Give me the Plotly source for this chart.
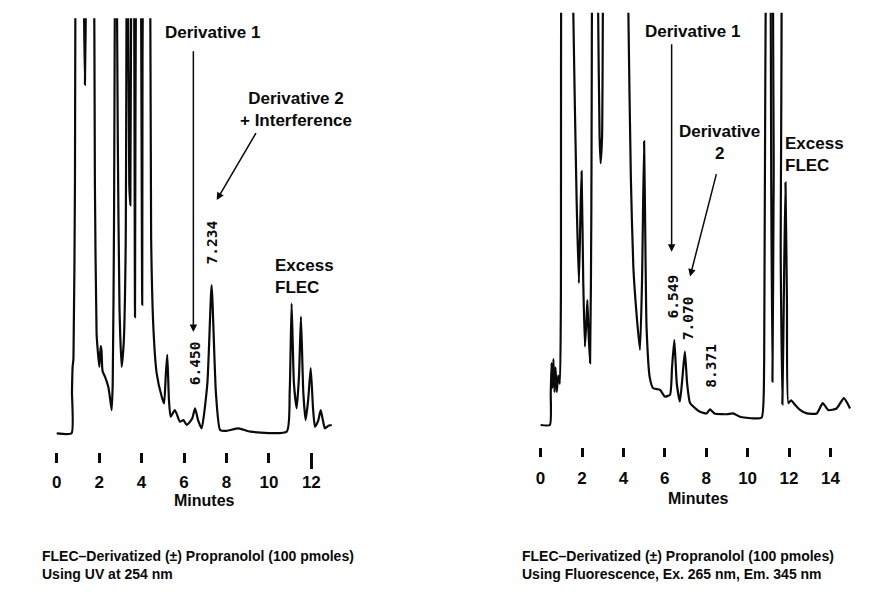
import plotly.graph_objects as go

# ---------------- data ----------------
# Left chromatogram: UV detection at 254 nm (time in minutes, signal in % of full scale)
left_time = [0.00, 0.70, 0.72, 0.75, 0.79, 0.86, 0.92, 1.10, 1.27, 1.33, 1.39, 1.55, 1.74, 1.80,
             1.88, 1.95, 2.01, 2.07, 2.11, 2.16, 2.28, 2.43, 2.50, 2.59, 2.64, 2.70, 2.78, 2.88,
             2.96, 3.06, 3.16, 3.25, 3.32, 3.42, 3.47, 3.54, 3.63, 3.69, 3.75, 3.86, 3.96, 4.03,
             4.10, 4.25, 4.39, 4.45, 4.56, 4.71, 4.95, 5.06, 5.14, 5.21, 5.29, 5.37, 5.57, 5.81,
             5.97, 6.13, 6.38, 6.52, 6.66, 6.83, 7.10, 7.30, 7.50, 7.70, 8.00, 8.56, 9.13, 10.84,
             10.98, 11.07, 11.18, 11.31, 11.42, 11.51, 11.62, 11.73, 11.85, 11.97, 12.08, 12.17,
             12.32, 12.44, 12.55, 12.64, 12.80, 12.96]
left_signal = [0.0, 0.0, 10, 16, 18, 60, 140, 160, 110, 84, 110, 160, 130, 60,
               24, 19, 16, 21, 20, 15, 13.6, 11.2, 9.0, 5.6, 12, 50, 150, 70,
               30, 16, 22, 45, 150, 60, 55, 150, 130, 28, 130, 150, 120, 31,
               150, 160, 130, 47, 25, 14.5, 8.8, 7.2, 14, 18.9, 8, 4.0, 5.6, 2.8,
               3.2, 2.0, 3.5, 6.0, 3.2, 1.2, 12, 35.7, 10, 0.8, 0.6, 1.2, 0.4, 0.4,
               10, 31.3, 12, 6.0, 14, 28.1, 10, 3.2, 8, 15.7, 6, 1.6,
               3, 5.6, 3, 1.2, 1.8, 2.0]

# Right chromatogram: fluorescence detection
right_time = [0.00, 0.45, 0.49, 0.53, 0.57, 0.62, 0.67, 0.72, 0.78, 0.85, 0.93, 0.98, 1.05, 1.25,
              1.50, 1.58, 1.74, 1.85, 1.92, 1.98, 2.06, 2.14, 2.21, 2.26, 2.32, 2.39, 2.45, 2.52,
              2.62, 2.70, 2.78, 2.85, 2.90, 2.97, 3.12, 3.60, 4.15, 4.24, 4.36, 4.48, 4.65, 4.80,
              4.90, 5.00, 5.07, 5.12, 5.28, 5.44, 5.77, 6.00, 6.25, 6.35, 6.46, 6.58, 6.73, 6.86,
              6.97, 7.08, 7.22, 7.46, 7.70, 8.02, 8.18, 8.40, 9.00, 9.30, 9.63, 10.27, 10.68, 10.80,
              10.92, 11.05, 11.14, 11.20, 11.26, 11.36, 11.50, 11.60, 11.68, 11.76, 11.83, 11.90,
              11.97, 12.10, 12.29, 12.50, 12.86, 13.34, 13.63, 13.90, 14.30, 14.65, 14.95]
right_signal = [0, 0, 7.7, 15, 9, 16, 8, 14, 8, 12, 10, 30, 150, 160,
                150, 100, 54.6, 34.4, 50, 61.5, 35, 19, 25, 30.3, 22, 15, 50, 150,
                120, 150, 100, 70, 63.5, 70, 150, 170, 150, 100, 60, 38.4, 26, 18.2,
                35, 68.8, 40, 23.5, 11.3, 8.9, 8.5, 6.9, 7.3, 14, 20.6, 10, 5.7, 12,
                17.8, 10, 5.3, 4.1, 3.2, 2.8, 3.8, 2.8, 2.6, 2.8, 2.0, 1.6, 1.8, 15,
                150, 160, 60, 10.5, 60, 150, 150, 40, 5.0, 35, 58.8, 30,
                5.3, 6, 4.9, 3.8, 2.8, 2.8, 5.3, 3.6, 4.0, 6.5, 4.0]

left_ticks = [0, 2, 4, 6, 8, 10, 12]
left_long_tick = [12]
right_ticks = [0, 2, 4, 6, 8, 10, 12, 14]

# peak retention-time labels: (label, time, height of label centre)
left_rt_labels = [("7.234", 7.30, 45.9), ("6.450", 6.52, 16.9)]
right_rt_labels = [("6.549", 6.38, 31.1), ("7.070", 7.09, 26.0), ("8.371", 8.22, 14.3)]

left_caption = "FLEC\u2013Derivatized (\u00b1) Propranolol (100 pmoles)<br>Using UV at 254 nm"
right_caption = ("FLEC\u2013Derivatized (\u00b1) Propranolol (100 pmoles)<br>"
                 "Using Fluorescence, Ex. 265 nm, Em. 345 nm")

# ---------------- figure ----------------
OFF = 8                      # default page margin of the html body
W, H = 882 - OFF, 592 - OFF
FONT = "Liberation Sans, Arial, Helvetica, sans-serif"
MONO = "DejaVu Sans Mono, Liberation Mono, monospace"
INK = "#0a0a0a"

fig = go.Figure()
fig.add_trace(go.Scatter(x=left_time, y=left_signal, mode="lines",
                         line=dict(color=INK, width=2.2, shape="spline", smoothing=0.5),
                         xaxis="x", yaxis="y", showlegend=False, hoverinfo="skip"))
fig.add_trace(go.Scatter(x=right_time, y=right_signal, mode="lines",
                         line=dict(color=INK, width=2.2, shape="spline", smoothing=0.5),
                         xaxis="x2", yaxis="y2", showlegend=False, hoverinfo="skip"))

def px_x(p):
    return (p - OFF) / W

def px_y(p):
    return 1 - (p - OFF) / H

xcommon = dict(showgrid=False, zeroline=False, showline=False, ticks="outside",
               tickcolor=INK, tickwidth=2.5,
               tickfont=dict(family=FONT, size=17, color=INK, weight="bold"),
               fixedrange=True)
ycommon = dict(visible=False, showgrid=False, zeroline=False, fixedrange=True)

LEFT_RANGE = [-0.787, 13.586]
fig.update_layout(
    width=W, height=H,
    margin=dict(l=0, r=0, t=0, b=0),
    paper_bgcolor="white", plot_bgcolor="white",
    xaxis=dict(domain=[px_x(40), px_x(345)], range=LEFT_RANGE, anchor="y",
               tickvals=left_ticks, ticklen=10, ticklabelstandoff=5, **xcommon),
    yaxis=dict(domain=[px_y(452), px_y(18.3)], range=[-4.5, 100], anchor="x", **ycommon),
    xaxis2=dict(domain=[px_x(520), px_x(870)], range=[-0.995, 15.913], anchor="y2",
                tickvals=right_ticks, ticklen=9, ticklabelstandoff=7, **xcommon),
    yaxis2=dict(domain=[px_y(446.7), px_y(12.7)], range=[-5.27, 100], anchor="x2", **ycommon),
    # overlay axis that draws the longer tick mark at 12 min on the left chart
    xaxis3=dict(domain=[px_x(40), px_x(345)], range=LEFT_RANGE, anchor="y", overlaying="x",
                side="bottom", tickvals=left_long_tick, ticklen=16, showticklabels=False,
                showgrid=False, zeroline=False, showline=False, ticks="outside",
                tickcolor=INK, tickwidth=2.5, fixedrange=True),
)
# invisible helper trace so the overlay axis is drawn
fig.add_trace(go.Scatter(x=left_long_tick, y=[None], mode="lines", xaxis="x3", yaxis="y",
                         showlegend=False, hoverinfo="skip"))

ann = []
lab_font = dict(family=FONT, size=17, color=INK, weight="bold")
mono_font = dict(family=MONO, size=14.5, color=INK, weight="bold")

# left chart labels
ann.append(dict(text="Derivative 1", x=7.34, y=96.5, xref="x", yref="y",
                showarrow=False, font=lab_font, xanchor="center", yanchor="middle"))
ann.append(dict(text="Derivative 2<br>+ Interference", x=11.28, y=78.1, xref="x", yref="y",
                showarrow=False, font=lab_font, xanchor="center", yanchor="middle"))
ann.append(dict(text="Excess<br>FLEC", x=10.19, y=37.7, xref="x", yref="y", align="left",
                showarrow=False, font=lab_font, xanchor="left", yanchor="middle"))
# arrows (left)
ann.append(dict(text="", x=6.44, y=24.4, ax=6.44, ay=92.4, xref="x", yref="y",
                axref="x", ayref="y", showarrow=True, arrowhead=2, arrowsize=1,
                arrowwidth=1.5, arrowcolor=INK, standoff=0))
ann.append(dict(text="", x=7.54, y=56.2, ax=9.43, ay=72.7, xref="x", yref="y",
                axref="x", ayref="y", showarrow=True, arrowhead=2, arrowsize=1,
                arrowwidth=1.5, arrowcolor=INK, standoff=0))
for txt, t, v in left_rt_labels:
    ann.append(dict(text="<b>" + txt + "</b>", x=t, y=v, xref="x", yref="y", textangle=-90,
                    showarrow=False, font=mono_font, xanchor="center", yanchor="middle"))

# right chart labels
ann.append(dict(text="Derivative 1", x=7.34, y=95.5, xref="x2", yref="y2",
                showarrow=False, font=lab_font, xanchor="center", yanchor="middle"))
ann.append(dict(text="Derivative<br>2", x=8.62, y=68.4, xref="x2", yref="y2",
                showarrow=False, font=lab_font, xanchor="center", yanchor="middle"))
ann.append(dict(text="Excess<br>FLEC", x=11.70, y=65.7, xref="x2", yref="y2", align="left",
                showarrow=False, font=lab_font, xanchor="left", yanchor="middle"))
ann.append(dict(text="", x=6.33, y=42.0, ax=6.33, ay=92.7, xref="x2", yref="y2",
                axref="x2", ayref="y2", showarrow=True, arrowhead=2, arrowsize=1,
                arrowwidth=1.5, arrowcolor=INK, standoff=0))
ann.append(dict(text="", x=7.22, y=36.0, ax=8.51, ay=61.2, xref="x2", yref="y2",
                axref="x2", ayref="y2", showarrow=True, arrowhead=2, arrowsize=1,
                arrowwidth=1.5, arrowcolor=INK, standoff=0))
for txt, t, v in right_rt_labels:
    ann.append(dict(text="<b>" + txt + "</b>", x=t, y=v, xref="x2", yref="y2", textangle=-90,
                    showarrow=False, font=mono_font, xanchor="center", yanchor="middle"))

# axis titles
title_font = dict(family=FONT, size=16, color=INK, weight="bold")
ann.append(dict(text="Minutes", x=px_x(204), y=px_y(500.7), xref="paper", yref="paper",
                showarrow=False, font=title_font, xanchor="center", yanchor="middle"))
ann.append(dict(text="Minutes", x=px_x(698), y=px_y(498.3), xref="paper", yref="paper",
                showarrow=False, font=title_font, xanchor="center", yanchor="middle"))

# captions
cap_font = dict(family=FONT, size=14, color=INK, weight="bold")
ann.append(dict(text=left_caption, x=px_x(40), y=px_y(565), xref="paper", yref="paper",
                align="left", showarrow=False, font=cap_font, xanchor="left", yanchor="middle"))
ann.append(dict(text=right_caption, x=px_x(520), y=px_y(565), xref="paper", yref="paper",
                align="left", showarrow=False, font=cap_font, xanchor="left", yanchor="middle"))

fig.update_layout(annotations=ann)
fig.write_html("out.html")
